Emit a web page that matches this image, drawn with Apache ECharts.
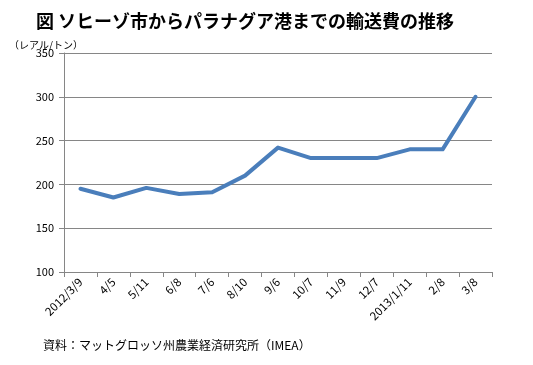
<!DOCTYPE html>
<html><head><meta charset="utf-8">
<script src="https://cdn.jsdelivr.net/npm/echarts@6/dist/echarts.min.js"></script>
<style>html,body{margin:0;padding:0;background:#fff}#c{width:533px;height:365px}</style>
</head><body><div id="c"></div>
<script>
const categories = ['2012/3/9','4/5','5/11','6/8','7/6','8/10','9/6','10/7','11/9','12/7','2013/1/11','2/8','3/8'];
const values = [195, 185, 196, 189, 191, 210, 242, 230, 230, 230, 240, 240, 300];
const yTicks = {min: 100, max: 350, interval: 50};
const titleText = '図 ソヒーゾ市からパラナグア港までの輸送費の推移';
const unitText = '（レアル/トン）';
const sourceText = '資料：マットグロッソ州農業経済研究所（IMEA）';
const font = '"Noto Sans CJK JP", "Noto Sans", sans-serif';
const chart = echarts.init(document.getElementById('c'));
chart.setOption({
  animation: false,
  textStyle: {fontFamily: font},
  title: [
    {text: titleText, left: 31, top: 7, textStyle: {fontSize: 18, fontWeight: 'bold', color: '#000', fontFamily: font}},
    {text: unitText, left: 4, top: 35, textStyle: {fontSize: 10, fontWeight: 'normal', color: '#000', fontFamily: font}},
    {text: sourceText, left: 38, top: 334, textStyle: {fontSize: 12, fontWeight: 'normal', color: '#000', fontFamily: font}}
  ],
  grid: {left: 64, right: 41, top: 53, bottom: 93},
  xAxis: {
    type: 'category', data: categories, boundaryGap: true,
    axisLine: {lineStyle: {color: '#868686'}},
    axisTick: {show: true, alignWithLabel: false, length: 5, lineStyle: {color: '#868686'}},
    axisLabel: {rotate: 45, fontSize: 11.5, color: '#000', margin: 8, interval: 0}
  },
  yAxis: {
    type: 'value', min: yTicks.min, max: yTicks.max, interval: yTicks.interval,
    axisLine: {show: true, lineStyle: {color: '#868686'}},
    axisTick: {show: true, length: 5, lineStyle: {color: '#868686'}},
    axisLabel: {fontSize: 11, color: '#000', margin: 10},
    splitLine: {lineStyle: {color: '#868686'}}
  },
  series: [{
    type: 'line', data: values, symbol: 'none',
    lineStyle: {color: '#4a7ebb', width: 4, cap: 'round', join: 'round'}
  }]
});
</script></body></html>
